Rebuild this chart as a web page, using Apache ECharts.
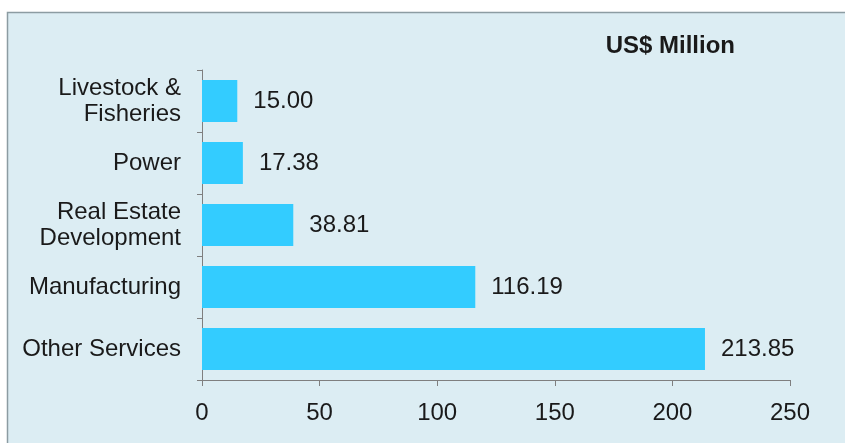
<!DOCTYPE html>
<html>
<head>
<meta charset="utf-8">
<script src="https://cdn.jsdelivr.net/npm/echarts@6/dist/echarts.min.js"></script>
<style>
  html, body { margin: 0; padding: 0; background: #ffffff; }
  #chart { width: 845px; height: 443px; }
</style>
</head>
<body>
<div id="chart"></div>
<script>
// Investment by sector, US$ million
const sectors = ['Livestock &\nFisheries', 'Power', 'Real Estate\nDevelopment', 'Manufacturing', 'Other Services'];
const amounts = [15.00, 17.38, 38.81, 116.19, 213.85];
const xTicks = [0, 50, 100, 150, 200, 250];

const chart = echarts.init(document.getElementById('chart'), null, { renderer: 'canvas' });

chart.setOption({
  animation: false,
  backgroundColor: '#ffffff',
  textStyle: { fontFamily: 'Liberation Sans, Arial, sans-serif' },
  graphic: [
    {
      type: 'rect',
      z: -10,
      shape: { x: 7.5, y: 12.5, width: 850, height: 440 },
      style: { fill: '#dcedf3', stroke: '#8c9ca2', lineWidth: 1.5 }
    },
    {
      type: 'text',
      right: 110,
      top: 34,
      style: {
        text: 'US$ Million',
        font: 'bold 24px "Liberation Sans", Arial, sans-serif',
        fill: '#1a1a1a'
      }
    }
  ],
  grid: { left: 202, right: 55, top: 70, bottom: 63, containLabel: false },
  xAxis: {
    type: 'value',
    min: xTicks[0],
    max: xTicks[xTicks.length - 1],
    interval: 50,
    axisLine: { show: true, lineStyle: { color: '#7f7f7f', width: 1 } },
    axisTick: { show: true, length: 6, lineStyle: { color: '#7f7f7f' } },
    splitLine: { show: false },
    axisLabel: { fontSize: 24, color: '#1a1a1a', margin: 21 }
  },
  yAxis: {
    type: 'category',
    data: sectors,
    inverse: true,
    axisLine: { show: true, lineStyle: { color: '#7f7f7f', width: 1 } },
    axisTick: { show: true, length: 5, lineStyle: { color: '#7f7f7f' } },
    axisLabel: { fontSize: 24, color: '#1a1a1a', margin: 21, lineHeight: 26, align: 'right' }
  },
  series: [{
    type: 'bar',
    data: amounts,
    barCategoryGap: '32%',
    itemStyle: { color: '#33ccff' },
    label: {
      show: true,
      position: 'right',
      distance: 16,
      fontSize: 24,
      color: '#1a1a1a',
      formatter: p => p.value.toFixed(2)
    }
  }]
});
</script>
</body>
</html>
